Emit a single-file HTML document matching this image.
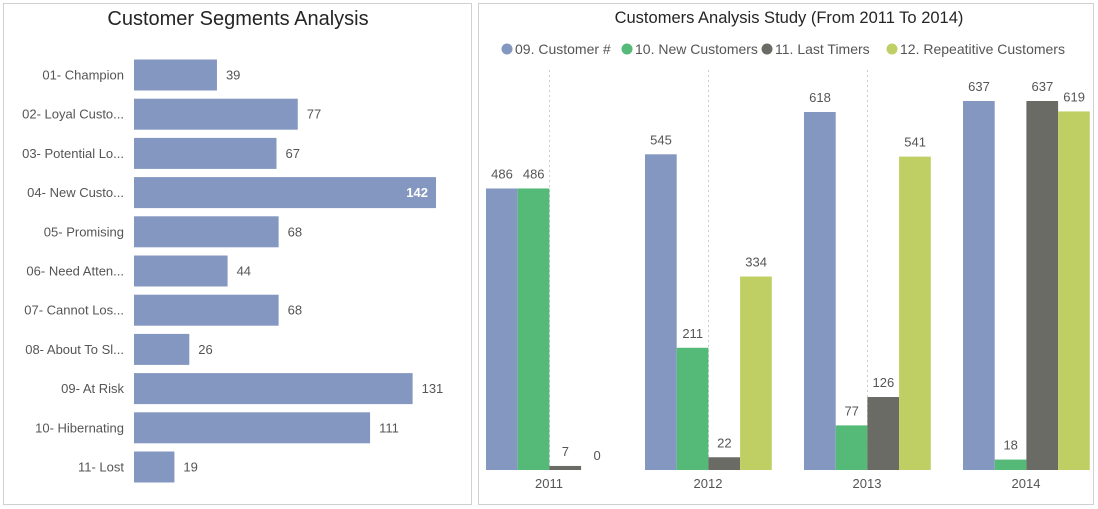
<!DOCTYPE html>
<html><head><meta charset="utf-8"><style>
body{margin:0;width:1098px;height:509px;background:#fff;font-family:"Liberation Sans","DejaVu Sans",sans-serif;overflow:hidden}
svg{position:absolute;left:0;top:0}
text{fill:#555;font-size:13px}
</style></head><body>
<svg width="1098" height="509">
<rect x="3.5" y="3.5" width="468" height="501" fill="#fff" stroke="#d0d0d0"/>
<rect x="478.5" y="3.5" width="615" height="501" fill="#fff" stroke="#d0d0d0"/>
<text x="238" y="25" text-anchor="middle" style="font-size:20px;fill:#252525">Customer Segments Analysis</text>
<text x="789" y="23" text-anchor="middle" style="font-size:16.5px;fill:#252525">Customers Analysis Study (From 2011 To 2014)</text>
<g id="left"></g>
<g id="right"></g>
<g id="legend"></g>
</svg>
<script>
const segments=["01- Champion","02- Loyal Custo...","03- Potential Lo...","04- New Custo...","05- Promising","06- Need Atten...","07- Cannot Los...","08- About To Sl...","09- At Risk","10- Hibernating","11- Lost"];
const segmentValues=[39,77,67,142,68,44,68,26,131,111,19];
const years=["2011","2012","2013","2014"];
const seriesNames=["09. Customer #","10. New Customers","11. Last Timers","12. Repeatitive Customers"];
const customerCount=[486,545,618,637];
const newCustomers=[486,211,77,18];
const lastTimers=[7,22,126,637];
const repeatCustomers=[0,334,541,619];
const NS="http://www.w3.org/2000/svg";
function mk(tag,attrs,parent,txt){const e=document.createElementNS(NS,tag);for(const k in attrs)e.setAttribute(k,attrs[k]);if(txt!==undefined)e.textContent=txt;parent.appendChild(e);return e;}
const L=document.getElementById('left');
const xL=v=>134+v*(302/142);
const yL=i=>75+i*39.2;
segments.forEach((s,i)=>{
 const t=mk('text',{x:124,y:yL(i)+4.5,'text-anchor':'end'},L,s);
 
 
 const v=segmentValues[i];
 const r=mk('rect',{x:134,y:yL(i)-15.5,width:xL(v)-134,height:31,fill:'#8497c0'},L);
 
 
 const inside=v>135;
 const lv=mk('text',{x:inside?xL(v)-8:xL(v)+9,y:yL(i)+4.5,'text-anchor':inside?'end':'start',style:inside?'fill:#fff;font-weight:bold':''},L,v);
 
 
});
const R=document.getElementById('right');
const base=470,yR=v=>base-v*(369/637);
const colors=['#8497c0','#55b978','#6b6b66','#bfcf63'];
const series=[customerCount,newCustomers,lastTimers,repeatCustomers];
const gx=i=>549+i*159;
[0,1,2].forEach(i=>{const l=mk('line',{x1:gx(i)+0.5,x2:gx(i)+0.5,y1:70,y2:base,stroke:'#ccc','stroke-dasharray':'2,3'},R);
 
 });
years.forEach((y,i)=>{
 series.forEach((s,j)=>{
  const x=gx(i)-63+j*31.7,v=s[i];
  const r=mk('rect',{x:x,y:yR(v),width:31.7,height:base-yR(v),fill:colors[j]},R);
  
  
  const t=mk('text',{x:x+16,y:yR(v)-10,'text-anchor':'middle'},R,v);
  
  
 });
 const yl=mk('text',{x:gx(i),y:488,'text-anchor':'middle'},R,y);
 
 
});
const G=document.getElementById('legend');
const lx=[507,627,767,892];
seriesNames.forEach((n,j)=>{
 const c=mk('circle',{cx:lx[j],cy:49,r:5.5,fill:colors[j]},G);
 
 
 const t=mk('text',{x:lx[j]+8,y:54,style:'font-size:14px'},G,n);
 
 
});
</script>
</body></html>
